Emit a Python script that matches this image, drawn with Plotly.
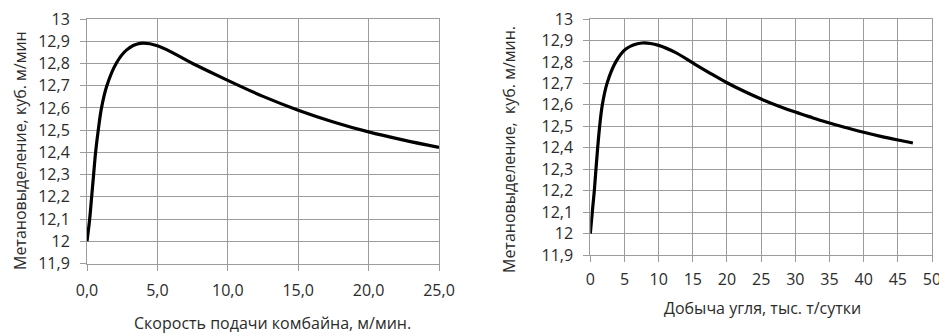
import plotly.graph_objects as go

# Left chart: shearer feed speed (m/min) vs methane release
speed_x = [0, 0.19, 0.33, 0.47, 0.61, 0.8, 1.03, 1.41, 2.07, 2.8, 3.76, 5, 7.5,
           10, 12.5, 15, 17.5, 20, 22.5, 25]
speed_y = [12.0, 12.1, 12.2, 12.3, 12.4, 12.5, 12.6, 12.7, 12.8, 12.86, 12.89, 12.88,
           12.80, 12.724, 12.652, 12.59, 12.537, 12.492, 12.455, 12.422]

# Right chart: coal output (thousand t/day) vs methane release
coal_x = [0, 0.29, 0.59, 0.83, 1.08, 1.37, 1.76, 2.45, 3.73, 5.2, 7.55, 10, 12.5, 15,
          17.5, 20, 22.5, 25, 27.5, 30, 32.5, 35, 37.5, 40, 42.5, 45, 47.2]
coal_y = [12.0, 12.1, 12.2, 12.3, 12.4, 12.5, 12.6, 12.7, 12.8, 12.86, 12.888, 12.877,
          12.843, 12.795, 12.748, 12.703, 12.663, 12.627, 12.595, 12.566, 12.54, 12.515,
          12.493, 12.472, 12.453, 12.436, 12.422]

left_xticks = [0, 5, 10, 15, 20, 25]
left_xticktext = ["0,0", "5,0", "10,0", "15,0", "20,0", "25,0"]
right_xticks = [0, 5, 10, 15, 20, 25, 30, 35, 40, 45, 50]
yticks = [11.9, 12.0, 12.1, 12.2, 12.3, 12.4, 12.5, 12.6, 12.7, 12.8, 12.9, 13.0]
yticktext = ["11,9", "12", "12,1", "12,2", "12,3", "12,4", "12,5", "12,6", "12,7",
             "12,8", "12,9", "13"]

left_xtitle = "Скорость подачи комбайна, м/мин."
left_ytitle = "Метановыделение, куб. м/мин"
right_xtitle = "Добыча угля, тыс. т/сутки"
right_ytitle = "Метановыделение,  куб. м/мин."

W, H = 939, 336
FONT = "Open Sans"
GRID = "#9c9c9c"
TXT = "#2b2b2b"

fig = go.Figure()
fig.add_trace(go.Scatter(x=speed_x, y=speed_y, mode="lines",
                         line=dict(color="black", width=3.2, shape="spline", smoothing=1.0),
                         xaxis="x", yaxis="y", showlegend=False, hoverinfo="skip"))
fig.add_trace(go.Scatter(x=coal_x, y=coal_y, mode="lines",
                         line=dict(color="black", width=3.2, shape="spline", smoothing=1.0),
                         xaxis="x2", yaxis="y2", showlegend=False, hoverinfo="skip"))


def px_x(p):
    return p / W


def px_y(p):
    return 1 - p / H


axis_common = dict(showgrid=True, gridcolor=GRID, gridwidth=1, zeroline=False,
                   showline=True, linecolor=GRID, linewidth=1, mirror=True,
                   ticks="outside", ticklen=6, tickcolor=GRID, tickwidth=1,
                   automargin=False, ticklabeloverflow="allow",
                   tickfont=dict(family=FONT, size=16, color=TXT), fixedrange=True)

fig.update_layout(
    template="none",
    width=W, height=H, autosize=False,
    margin=dict(l=0, r=0, t=0, b=0, pad=0),
    paper_bgcolor="white", plot_bgcolor="white",
    xaxis=dict(domain=[px_x(87), px_x(439)], range=[0, 25], anchor="y",
               tickmode="array", tickvals=left_xticks, ticktext=left_xticktext,
               ticklabelstandoff=6, **axis_common),
    yaxis=dict(domain=[px_y(263.5), px_y(19)], range=[11.9, 13.0], anchor="x",
               tickmode="array", tickvals=yticks, ticktext=yticktext,
               ticklabelstandoff=7, **axis_common),
    xaxis2=dict(domain=[px_x(590.3), px_x(932)], range=[0, 50], anchor="y2",
                tickmode="array", tickvals=right_xticks,
                ticklabelstandoff=4, **axis_common),
    yaxis2=dict(domain=[px_y(255), px_y(19)], range=[11.9, 13.0], anchor="x2",
                tickmode="array", tickvals=yticks, ticktext=yticktext,
                ticklabelstandoff=7, **axis_common),
    annotations=[
        dict(text=left_xtitle, x=px_x(272), y=0, xref="paper", yref="paper",
             showarrow=False, xanchor="center", yanchor="bottom",
             font=dict(family=FONT, size=16, color=TXT)),
        dict(text=left_ytitle, x=px_x(20), y=px_y(151), xref="paper", yref="paper",
             showarrow=False, xanchor="center", yanchor="middle", textangle=-90,
             font=dict(family=FONT, size=16, color=TXT)),
        dict(text=right_xtitle, x=px_x(762), y=px_y(308), xref="paper", yref="paper",
             showarrow=False, xanchor="center", yanchor="middle",
             font=dict(family=FONT, size=16, color=TXT)),
        dict(text=right_ytitle, x=px_x(509), y=px_y(150), xref="paper", yref="paper",
             showarrow=False, xanchor="center", yanchor="middle", textangle=-90,
             font=dict(family=FONT, size=16, color=TXT)),
    ],
)

fig.write_html("out.html")
